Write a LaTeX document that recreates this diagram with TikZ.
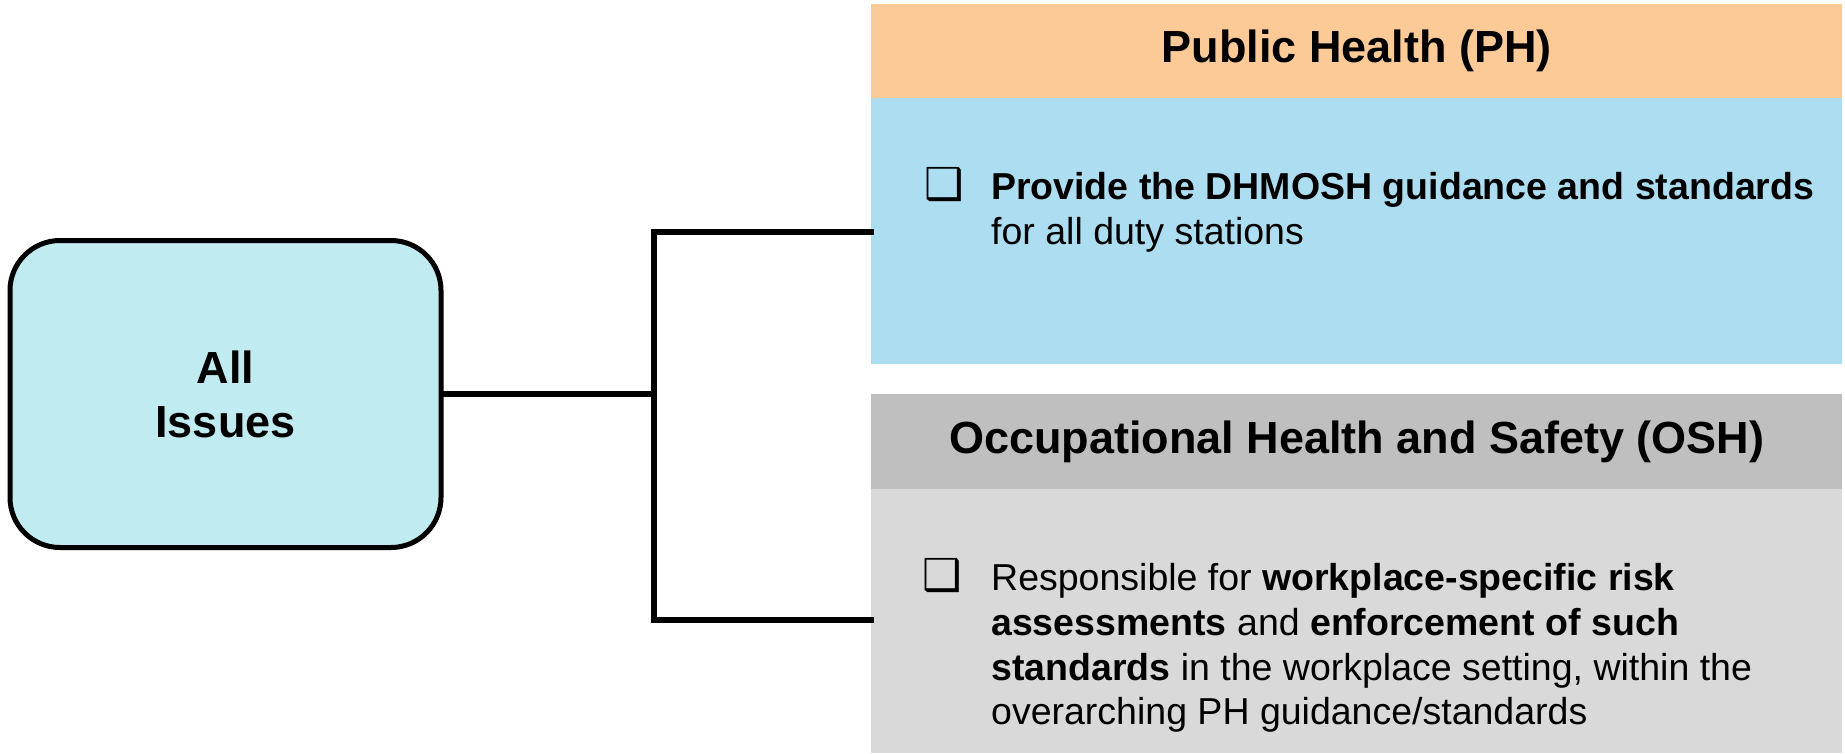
\documentclass[tikz,border=0pt]{standalone}
\usepackage{fontspec}
\setmainfont{Liberation Sans}
\newfontfamily\dejavu{DejaVu Sans}
\definecolor{allfill}{RGB}{192,235,240}
\definecolor{phhead}{RGB}{252,202,151}
\definecolor{phbody}{RGB}{173,221,240}
\definecolor{oshhead}{RGB}{191,191,191}
\definecolor{oshbody}{RGB}{217,217,217}
\begin{document}
\begin{tikzpicture}[x=1pt,y=-1pt,
  panel/.style={draw=none,inner sep=0pt,anchor=north west},
  headtxt/.style={font=\fontsize{45}{54}\selectfont\bfseries,inner sep=0pt},
  bodytxt/.style={font=\fontsize{37.5}{45}\selectfont,inner sep=0pt,anchor=base west},
  chk/.style={font=\dejavu\fontsize{44}{50}\selectfont,inner sep=0pt,anchor=base west},
  conn/.style={line width=5.5pt,line cap=rect}]
\useasboundingbox (0,0) rectangle (1845,753);
% left box
\node[draw,line width=5pt,fill=allfill,rounded corners=50pt,minimum width=431pt,minimum height=307pt,inner sep=0pt,
  align=center,font=\fontsize{45}{54}\selectfont\bfseries] (all) at (225.5,394) {All\\Issues};
% PH panel
\node[panel,fill=phhead,minimum width=971pt,minimum height=94pt] (phh) at (871,4) {};
\node[panel,fill=phbody,minimum width=971pt,minimum height=266pt] (phb) at (871,98) {};
\node[headtxt] (phtitle) at (phh.center) {Public Health (PH)};
\node[chk] (phchk) at (924,199) {❑};
\node[bodytxt] (phl1) at (991,199) {\textbf{Provide the DHMOSH guidance and standards}};
\node[bodytxt] (phl2) at (991,244) {for all duty stations};
% OSH panel
\node[panel,fill=oshhead,minimum width=971pt,minimum height=95pt] (oshh) at (871,394) {};
\node[panel,fill=oshbody,minimum width=971pt,minimum height=264pt] (oshb) at (871,489) {};
\node[headtxt] (oshtitle) at (oshh.center) {Occupational Health and Safety (OSH)};
\node[chk] (oshchk) at (922,590) {❑};
\node[bodytxt] (oshl1) at (991,590) {Responsible for \textbf{workplace-specific risk}};
\node[bodytxt] (oshl2) at (991,635) {\textbf{assessments} and \textbf{enforcement of such}};
\node[bodytxt] (oshl3) at (991,680) {\textbf{standards} in the workplace setting, within the};
\node[bodytxt] (oshl4) at (991,724) {overarching PH guidance/standards};
% connectors
\coordinate (jn) at (654,394);
\coordinate (phin) at (871,232);
\coordinate (oshin) at (871,620);
\draw[conn] (all.east) -- (jn);
\draw[conn] (phin) -| (jn) |- (oshin);
\end{tikzpicture}
\end{document}
